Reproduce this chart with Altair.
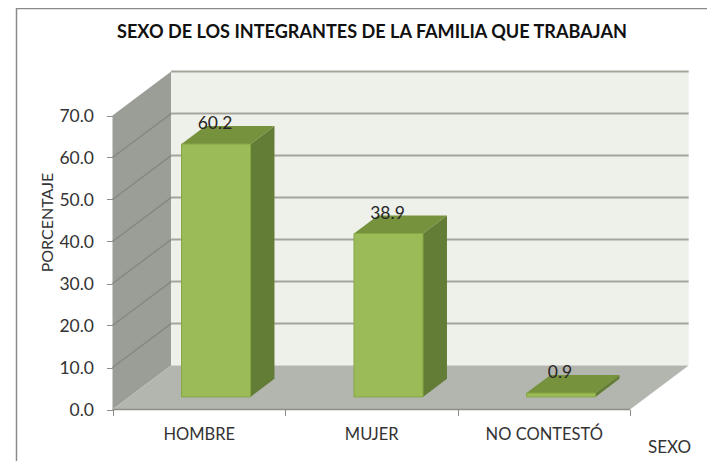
import altair as alt
import pandas as pd

CATEGORIAS = ["HOMBRE", "MUJER", "NO CONTESTÓ"]
PORCENTAJE = [60.2, 38.9, 0.9]
TICKS_Y = [0, 10, 20, 30, 40, 50, 60, 70]

FONT = "Lato"
W, H = 699, 453
PX_U, PX_V = 172.5, 4.2          # pixels per category / per percent
X0, Y0 = 104.5, 401.5            # origin of the axes inside the view
DU, DV = 0.34, 10.45             # room depth in scale units
BU, BV = 0.139, 4.3              # bar depth in scale units
FLOOR = 3.0                      # bars stand slightly behind the front edge
BAR_L, BAR_R = 0.4, 0.8

xs = alt.Scale(domain=[-X0 / PX_U, (W - X0) / PX_U], range=[0, W], nice=False, zero=False)
ys = alt.Scale(domain=[(Y0 - H) / PX_V, Y0 / PX_V], range=[H, 0], nice=False, zero=False)

label_expr = " : ".join(
    f"datum.value == {i + 0.5} ? '{c}'" for i, c in enumerate(CATEGORIAS)
) + " : ''"

axis_x = alt.Axis(
    values=[0, 0.5, 1, 1.5, 2, 2.5, 3],
    labelExpr=label_expr,
    offset=-(H - Y0),
    domain=False, grid=False,
    tickSize=6, tickColor="#8c8e88",
    tickOpacity={"condition": {"test": "datum.value % 1 == 0", "value": 1}, "value": 0},
    labelFont=FONT, labelFontSize=16.5, labelColor="#333333", labelPadding=11,
    labelFlush=False, labelOverlap=False, labelBound=False,
    titleFont=FONT, titleFontSize=17, titleFontWeight="normal", titleColor="#333333",
    titleX=661, titleY=38, titleBaseline="middle", titleAlign="center",
)
axis_y = alt.Axis(
    values=TICKS_Y,
    format=".1f",
    offset=-X0,
    domain=False, grid=False,
    tickSize=6, tickColor="#8c8e88",
    labelFont=FONT, labelFontSize=17.5, labelColor="#333333", labelPadding=13, labelOffset=1,
    titleFont=FONT, titleFontSize=16, titleFontWeight="normal", titleColor="#333333",
    titleX=-65, titleY=214, titleAngle=270, titleBaseline="middle", titleAlign="center",
)


def X():
    return alt.X("x:Q", scale=xs, axis=axis_x, title="SEXO")


def Y():
    return alt.Y("y:Q", scale=ys, axis=axis_y, stack=None, title="PORCENTAJE")


def sheared(i, x0, x1, dx, y, dy):
    """Parallelogram with horizontal edges, expressed as an area over x."""
    return [
        dict(id=i, x=x0, y=y, y2=y),
        dict(id=i, x=x0 + dx, y=y + dy, y2=y),
        dict(id=i, x=x1, y=y + dy, y2=y),
        dict(id=i, x=x1 + dx, y=y + dy, y2=y + dy),
    ]


def area(rows, color):
    return alt.Chart(pd.DataFrame(rows)).mark_area(color=color, opacity=1).encode(
        X(), Y(), alt.Y2("y2:Q"), alt.Detail("id:N")
    )


side_wall = area(
    [dict(id=0, x=0, y=0, y2=70), dict(id=0, x=DU, y=DV, y2=70 + DV)], "#9b9d97"
)
back_wall = area(
    [dict(id=0, x=DU, y=DV, y2=70 + DV), dict(id=0, x=3 + DU, y=DV, y2=70 + DV)], "#eef0ea"
)
floor = area(sheared(0, 0, 3, DU, 0, DV), "#b3b5af")

grid = alt.Chart(pd.DataFrame({
    "x": [DU] * 7, "x2": [3 + DU] * 7, "y": [t + DV for t in TICKS_Y[1:]]
})).mark_rule(color="#a3a59d", strokeWidth=2).encode(X(), alt.X2("x2:Q"), Y())

side_rows = []
for t in TICKS_Y[1:-1]:
    side_rows += [dict(id=t, x=0, y=t), dict(id=t, x=DU, y=t + DV)]
side_lines = alt.Chart(pd.DataFrame(side_rows)).mark_line(color="#868881", strokeWidth=1.5).encode(
    X(), Y(), alt.Detail("id:N")
)

bar_side, bar_top, bar_front = [], [], []
for i, v in enumerate(PORCENTAJE):
    r = i + BAR_R
    bar_side += [dict(id=i, x=r, y=FLOOR, y2=FLOOR + v), dict(id=i, x=r + BU, y=FLOOR + BV, y2=FLOOR + v + BV)]
    bar_top += sheared(i, i + BAR_L, r, BU, FLOOR + v, BV)
    bar_front.append(dict(x=i + BAR_L, x2=r, y=FLOOR, y2=FLOOR + v))

sides = area(bar_side, "#647d36")
tops = area(bar_top, "#76923c")
fronts = alt.Chart(pd.DataFrame(bar_front)).mark_rect(
    color="#9bbb59", stroke="#86a843", strokeWidth=1
).encode(X(), alt.X2("x2:Q"), Y(), alt.Y2("y2:Q"))

labels = alt.Chart(pd.DataFrame({
    "x": [i + 0.6 for i in range(3)],
    "y": [FLOOR + v for v in PORCENTAJE],
    "t": [f"{v:.1f}" for v in PORCENTAJE],
})).mark_text(font=FONT, fontSize=17.5, color="#262626", baseline="middle", dy=-20, dx=-1).encode(
    X(), Y(), text="t:N"
)

floor_edge = alt.Chart(pd.DataFrame({"x": [0.0], "x2": [3.0], "y": [0.0]})).mark_rule(
    color="#8c8e88", strokeWidth=1.5
).encode(X(), alt.X2("x2:Q"), Y())

frame_left = alt.Chart(pd.DataFrame({"a": [0]})).mark_rule(color="#8a8a8a", strokeWidth=1.5).encode(
    x=alt.value(8.5), y=alt.value(0), y2=alt.value(H)
)
frame_top = alt.Chart(pd.DataFrame({"a": [0]})).mark_rule(color="#8a8a8a", strokeWidth=1.5).encode(
    x=alt.value(8.5), x2=alt.value(W), y=alt.value(0.5)
)

chart = alt.layer(
    frame_left, frame_top, side_wall, back_wall, floor, grid, side_lines,
    floor_edge, sides, tops, fronts, labels,
).properties(
    width=W,
    height=H,
    padding=0,
    autosize=alt.AutoSizeParams(type="none"),
    background="white",
    title=alt.TitleParams(
        "SEXO DE LOS INTEGRANTES DE LA FAMILIA QUE TRABAJAN",
        font=FONT, fontSize=18.1, fontWeight="bold", color="#111111",
        anchor="start", dx=109, offset=-44, baseline="middle",
    ),
).configure_view(stroke=None)

chart.save("out.html", embed_options={"renderer": "svg", "actions": False})
